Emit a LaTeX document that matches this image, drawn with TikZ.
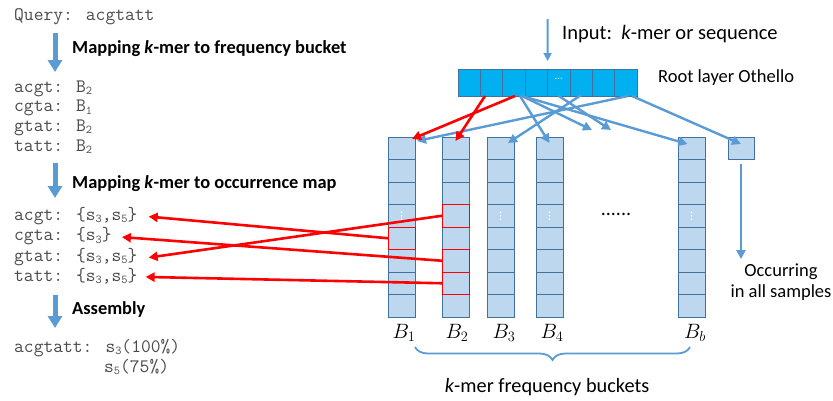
\documentclass[tikz,border=0pt]{standalone}
\usepackage{fontspec}
\setmainfont{Carlito}
\usetikzlibrary{arrows.meta,calc,decorations.pathreplacing}
\definecolor{arrblue}{HTML}{5B9BD5}
\definecolor{cellfill}{HTML}{BDD7EE}
\definecolor{cellline}{HTML}{41719C}
\definecolor{rootfill}{HTML}{00B0F0}
\definecolor{codegray}{HTML}{4A4A4A}
\newcommand{\celldots}[1]{\foreach \d in {-3.5,0,3.5}{\fill[white] ([yshift=\d]#1.center) circle (0.9);}}
\newcommand{\sbs}[1]{\raisebox{-0.35ex}{\fontsize{12}{12}\selectfont #1}}
\begin{document}
\begin{tikzpicture}[x=1pt,y=-1pt,
  cell/.style={draw=cellline,fill=cellfill,line width=0.9pt,minimum width=27pt,minimum height=22.5pt,inner sep=0pt,outer sep=0pt,anchor=north west},
  rcell/.style={draw=cellline,fill=rootfill,line width=0.9pt,minimum width=22.4pt,minimum height=27pt,inner sep=0pt,outer sep=0pt,anchor=north west},
  code/.style={font=\fontsize{19}{20}\ttfamily,text=codegray,anchor=base west,inner sep=0pt},
  head/.style={font=\fontsize{18.4}{20}\selectfont\bfseries,anchor=base west,inner sep=0pt},
  lbl/.style={font=\fontsize{21.5}{24}\selectfont,inner sep=0pt,anchor=base},
  txt/.style={inner sep=0pt},
  bigarrow/.style={draw=arrblue,line width=5pt,-{Triangle[length=12pt,width=14pt]}},
  barr/.style={draw=arrblue,line width=2.4pt,-{Triangle[length=9pt,width=9pt]}},
  rarr/.style={draw=red,line width=2.6pt,-{Triangle[length=9pt,width=9pt]}},
  hl/.style={draw=red,line width=1pt}
]
\useasboundingbox (0,0) rectangle (833,400);

% ---------- left column ----------
\node[code] (query) at (14,20) {Query: acgtatt};
\node[head] (h1) at (72,53) {Mapping \textit{k}-mer to frequency bucket};
\node[code] (m1) at (14,92) {acgt: B\sbs{2}};
\node[code] (m2) at (14,111.5) {cgta: B\sbs{1}};
\node[code] (m3) at (14,131) {gtat: B\sbs{2}};
\node[code] (m4) at (14,151) {tatt: B\sbs{2}};
\node[head] (h2) at (72,188) {Mapping \textit{k}-mer to occurrence map};
\node[code] (o1) at (14,220) {acgt: \{s\sbs{3},s\sbs{5}\}};
\node[code] (o2) at (14,240.5) {cgta: \{s\sbs{3}\}};
\node[code] (o3) at (14,261) {gtat: \{s\sbs{3},s\sbs{5}\}};
\node[code] (o4) at (14,281) {tatt: \{s\sbs{3},s\sbs{5}\}};
\node[head] (h3) at (72,314) {Assembly};
\node[code] (a1) at (14,352) {acgtatt: s\sbs{3}(100\%)};
\node[code] (a2) at (104,372) {s\sbs{5}(75\%)};

\draw[bigarrow] (55,33) -- (55,72);
\draw[bigarrow] (55,163) -- (55,198);
\draw[bigarrow] (55,295) -- (55,328);

% ---------- root layer ----------
\foreach \k in {1,...,8} {
  \node[rcell] (r\k) at ({458+(\k-1)*22.4},69) {};
}
\node[txt,font=\fontsize{11}{11}\selectfont,text=white] (rdots) at ([yshift=3.5]r5.center) {...};
\coordinate (inTop) at (547.6,19);
\draw[draw=arrblue,line width=1.8pt,-{Triangle[length=8pt,width=8pt]},shorten >=8pt] (inTop) -- (r4.north east);
\node[txt,font=\fontsize{20.5}{24}\selectfont,anchor=base west] (intext) at (562,39.5) {Input:\ \ \textit{k}-mer or sequence};
\node[txt,font=\fontsize{18.5}{22}\selectfont,anchor=base west] (roottext) at (658,82.5) {Root layer Othello};

% ---------- columns ----------
\foreach \i/\x in {1/388,2/442,3/487,4/536,5/678} {
  \foreach \j in {1,...,8} {
    \node[cell] (c\i-\j) at (\x,{137+(\j-1)*22.5}) {};
  }
}
\celldots{c1-4}
\celldots{c3-4}
\celldots{c4-4}
\celldots{c5-4}
\node[cell,minimum width=26pt] (sb) at (728,137) {};

\node[lbl] (B1) at (404,338) {$B_1$};
\node[lbl] (B2) at (457,338) {$B_2$};
\node[lbl] (B3) at (504,338) {$B_3$};
\node[lbl] (B4) at (552,338) {$B_4$};
\node[lbl] (Bb) at (695,338) {$B_b$};
\node[txt,font=\fontsize{20}{22}\selectfont] (hdots) at (616,214) {......};

% ---------- blue arrows from root ----------
\coordinate (free1) at (592,130);
\coordinate (free2) at (611,130);
\draw[barr] ([xshift=2]r8.south) -- ([xshift=2,yshift=-4]c1-1.north east);
\draw[barr] ([xshift=6]r3.south) -- ([yshift=-6]c4-1.north);
\draw[barr] ([xshift=8]r3.south) -- (free1);
\draw[barr] ([xshift=8]r3.south) -- ([xshift=-4,yshift=-7]c5-1.north);
\draw[barr] (r5.south) -- (free2);
\draw[barr] ([yshift=1]r6.south) -- ([xshift=-6,yshift=-6]c3-1.north east);
\draw[barr] ([xshift=6]r8.south) -- ([yshift=-7]sb.north);

% ---------- red arrows from root ----------
\draw[rarr] ([xshift=-6.6]r2.south) -- ([yshift=-4]c2-1.north);
\draw[rarr] ([xshift=1]r3.south) -- ([xshift=-3,yshift=-2]c1-1.north east);

% ---------- highlighted cells and red arrows ----------
\draw[rarr] (c1-5.west) -- ([xshift=11pt,yshift=-1]o1.east);
\draw[rarr] (c2-6.west) -- ([xshift=10pt,yshift=-1]o2.east);
\draw[rarr] (c2-4.west) -- ([xshift=11pt,yshift=-1]o3.east);
\draw[rarr] (c2-7.west) -- ([xshift=8pt,yshift=-1]o4.east);
\foreach \c in {c1-5,c2-4,c2-6,c2-7} {
  \draw[hl] (\c.north west) rectangle (\c.south east);
}

% ---------- small box arrow ----------
\node[txt,font=\fontsize{18.5}{22}\selectfont,anchor=base] (occ1) at (781,276) {Occurring};
\node[txt,font=\fontsize{18.5}{22}\selectfont,anchor=base] (occ2) at (781,297) {in all samples};
\draw[draw=arrblue,line width=2.4pt,-{Triangle[length=9pt,width=9pt]},shorten <=4pt,shorten >=4pt] (sb.south) -- (sb.south |- occ1.north);

% ---------- brace ----------
\coordinate (brL) at (415,347);
\coordinate (brR) at (690,347);
\draw[arrblue,line width=1.8pt,decorate,decoration={brace,mirror,amplitude=13pt}] (brL) -- (brR);
\node[txt,font=\fontsize{20.3}{24}\selectfont,anchor=base] (brtext) at (547,392) {\textit{k}-mer frequency buckets};
\end{tikzpicture}
\end{document}
